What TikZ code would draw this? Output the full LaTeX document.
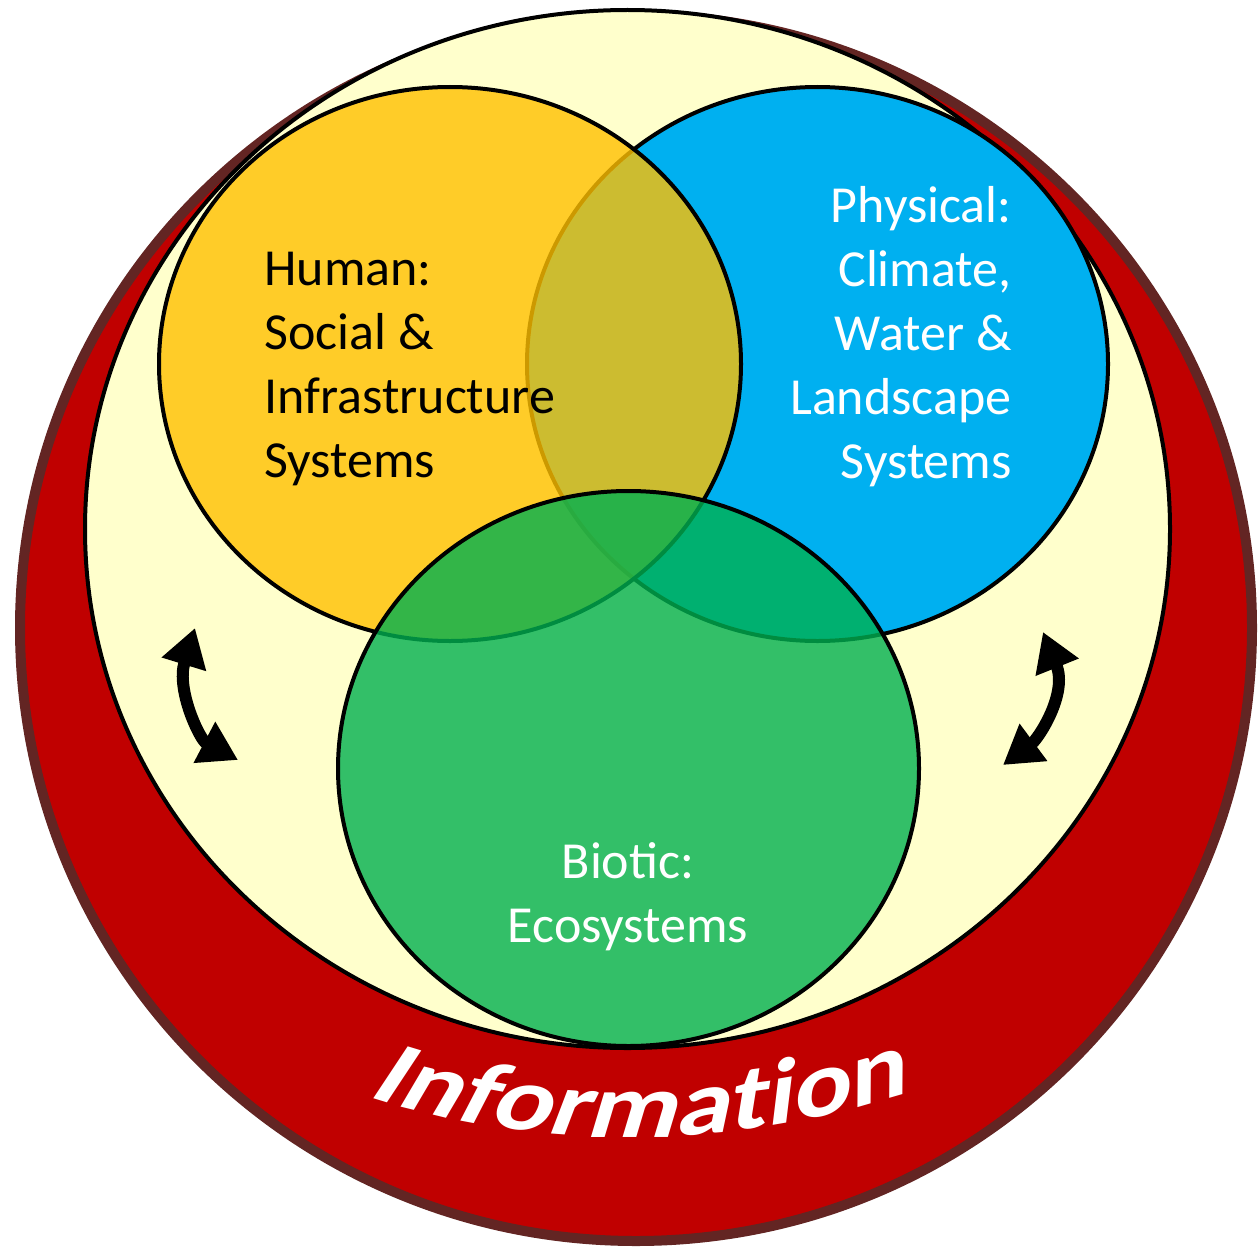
\documentclass[tikz,border=0pt]{standalone}
\usepackage{fontspec}
\setmainfont{Carlito}
\newfontfamily\infofont[FakeStretch=1.2, FakeSlant=0.3]{Carlito}
\usepackage{tikz}
\usetikzlibrary{shapes.geometric, arrows.meta, decorations.text}

\definecolor{infored}{HTML}{C00000}
\definecolor{infobrown}{HTML}{632523}
\definecolor{paleyellow}{HTML}{FFFFCC}
\definecolor{humangold}{HTML}{FFC000}
\definecolor{physblue}{HTML}{00B0F0}
\definecolor{bioticgreen}{HTML}{00B050}

\newcommand{\infostyle}{\infofont\bfseries\fontsize{46pt}{54pt}\selectfont}

\begin{document}
\begin{tikzpicture}[x=0.5pt, y=-0.5pt]
  \tikzstyle{sphere}=[ellipse, draw, line width=2pt, inner sep=0pt]
  \tikzstyle{systext}=[inner sep=0pt, font=\fontsize{26pt}{32pt}\selectfont]
  \tikzstyle{feedback}=[line width=6pt,
  {Triangle[width=22pt, length=19pt]}-{Triangle[width=22pt, length=19pt]}]

  \useasboundingbox (0,0) rectangle (1258,1247);

  % information ring and the world it holds
  \node (info) [ellipse, draw=infobrown, line width=5pt, fill=infored, inner sep=0pt,
  minimum width=616pt, minimum height=613pt] at (636,628) {};
  \node (world) [sphere, fill=paleyellow, minimum width=542.5pt, minimum height=519pt] at (627.5,529) {};

  % the three systems
  \node (physical) [sphere, fill=physblue, minimum width=290.5pt, minimum height=277pt] at (817.5,364) {};
  \node (human) [sphere, fill=humangold, fill opacity=0.8, minimum width=291pt, minimum height=277pt] at (450,364) {};
  \node (biotic) [sphere, fill=bioticgreen, fill opacity=0.8, minimum width=290.5pt, minimum height=277.5pt] at (628.5,768.5) {};

  % base anchor sits on the last line
  \node (humantext) [systext, align=left, anchor=base west] at (264,477)
  {Human:\\Social \&\\Infrastructure\\Systems};
  \node (physicaltext) [systext, align=right, anchor=base east, text=white] at (1012,478)
  {Physical:\\Climate,\\Water \&\\Landscape\\Systems};
  \node (biotictext) [systext, align=center, anchor=base, text=white] at (628,942)
  {Biotic:\\Ecosystems};

  % feedback arrows
  \coordinate (humanend) at (195,628);
  \coordinate (bioticendL) at (238,760);
  \coordinate (physicalend) at (1043,632);
  \coordinate (bioticendR) at (1003,765);
  \draw [feedback] (humanend) .. controls (176,690) and (200,740) .. (bioticendL);
  \draw [feedback] (physicalend) .. controls (1068,694) and (1038,739) .. (bioticendR);

  \path [decorate, decoration={text along path, text align=center,
  text color=white, text={|\infostyle|Information}}]
  (360,1094) .. controls (535,1152) and (730,1152) .. (915,1090);
\end{tikzpicture}
\end{document}
